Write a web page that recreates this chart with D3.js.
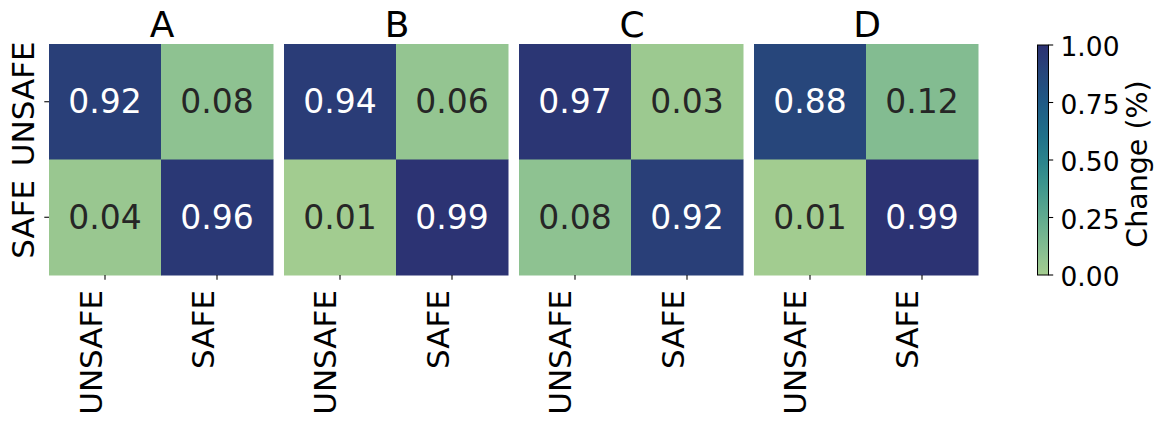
<!DOCTYPE html>
<html>
<head>
<meta charset="utf-8">
<script src="https://cdn.jsdelivr.net/npm/d3@7"></script>
<style>
  html, body { margin: 0; padding: 0; background: #fff; }
  svg { display: block; font-family: "DejaVu Sans", sans-serif; }
</style>
</head>
<body>
<svg id="chart" width="1163" height="421"></svg>
<script>
// ---- data ----
const panels = ["A", "B", "C", "D"];
const rowLabels = ["UNSAFE", "SAFE"];
const colLabels = ["UNSAFE", "SAFE"];
const valuesA = [[0.92, 0.08], [0.04, 0.96]];
const valuesB = [[0.94, 0.06], [0.01, 0.99]];
const valuesC = [[0.97, 0.03], [0.08, 0.92]];
const valuesD = [[0.88, 0.12], [0.01, 0.99]];
const cbarTicks = [0, 0.25, 0.5, 0.75, 1.0];
const cbarLabel = "Change (%)";

const panelValues = { A: valuesA, B: valuesB, C: valuesC, D: valuesD };

// approximate seaborn "crest" colormap
const crestStops = [0, 0.1, 0.25, 0.4, 0.5, 0.6, 0.75, 0.88, 1.0];
const crestColors = ["#a5cd90", "#88bf91", "#60ab8f", "#3b948d", "#2a838c", "#20718a", "#1f5a86", "#27467b", "#2c3172"];
const color = d3.scaleLinear().domain(crestStops).range(crestColors).interpolate(d3.interpolateRgb).clamp(true);

const svg = d3.select("#chart");

const plotTop = 44, plotBottom = 275;
const panelX = d3.scaleBand().domain(panels).range([49, 978]).paddingInner(0.0468).paddingOuter(0);
const yScale = d3.scaleBand().domain(rowLabels).range([plotTop, plotBottom]);

panels.forEach((p, pi) => {
  const x0 = panelX(p);
  const xScale = d3.scaleBand().domain(colLabels).range([x0, x0 + panelX.bandwidth()]);
  const g = svg.append("g");
  const vals = panelValues[p];
  const cells = [];
  rowLabels.forEach((r, ri) => colLabels.forEach((c, ci) => cells.push({ r, c, v: vals[ri][ci] })));

  g.selectAll("rect.cell").data(cells).enter().append("rect")
    .attr("class", "cell")
    .attr("x", d => xScale(d.c))
    .attr("y", d => yScale(d.r))
    .attr("width", xScale.bandwidth() + 0.5)
    .attr("height", yScale.bandwidth() + 0.5)
    .attr("fill", d => color(d.v));

  g.selectAll("text.ann").data(cells).enter().append("text")
    .attr("class", "ann")
    .attr("x", d => xScale(d.c) + xScale.bandwidth() / 2)
    .attr("y", d => yScale(d.r) + yScale.bandwidth() / 2 + 11.5)
    .attr("text-anchor", "middle")
    .attr("font-size", 33)
    .attr("fill", d => d.v > 0.5 ? "#ffffff" : "#262626")
    .text(d => d.v.toFixed(2));

  // title
  g.append("text")
    .attr("x", x0 + panelX.bandwidth() / 2 + 1)
    .attr("y", 36.5)
    .attr("text-anchor", "middle")
    .attr("font-size", 36)
    .attr("fill", "#000")
    .text(p);

  // x ticks
  colLabels.forEach(c => {
    const cx = xScale(c) + xScale.bandwidth() / 2;
    g.append("line").attr("x1", cx).attr("x2", cx).attr("y1", plotBottom).attr("y2", plotBottom + 4.7)
      .attr("stroke", "#000").attr("stroke-width", 1.07);
    g.append("text")
      .attr("transform", `translate(${cx - 3.5},${plotBottom + 15}) rotate(-90)`)
      .attr("text-anchor", "end")
      .attr("font-size", 31)
      .attr("fill", "#000")
      .text(c);
  });

  // y ticks (first panel only)
  if (pi === 0) {
    rowLabels.forEach(r => {
      const cy = yScale(r) + yScale.bandwidth() / 2;
      g.append("line").attr("x1", x0 - 4.7).attr("x2", x0).attr("y1", cy).attr("y2", cy)
        .attr("stroke", "#000").attr("stroke-width", 1.07);
      g.append("text")
        .attr("transform", `translate(${x0 - 15},${cy + 2}) rotate(-90)`)
        .attr("text-anchor", "middle")
        .attr("font-size", 31)
        .attr("fill", "#000")
        .text(r);
    });
  }
});

// ---- colorbar ----
const cbX = 1037.5, cbW = 11;
const cbScale = d3.scaleLinear().domain([0, 1]).range([plotBottom, plotTop + 1]);
const defs = svg.append("defs");
const grad = defs.append("linearGradient").attr("id", "cbgrad")
  .attr("x1", 0).attr("y1", 1).attr("x2", 0).attr("y2", 0);
d3.range(0, 1.0001, 0.02).forEach(t => {
  grad.append("stop").attr("offset", t).attr("stop-color", color(t));
});
svg.append("rect")
  .attr("x", cbX).attr("y", cbScale(1)).attr("width", cbW).attr("height", cbScale(0) - cbScale(1))
  .attr("fill", "url(#cbgrad)")
  .attr("stroke", "#000").attr("stroke-width", 1);

const cbAxis = svg.append("g");
const cbTickG = cbAxis.selectAll("g.tick").data(cbarTicks).enter().append("g").attr("class", "tick");
cbTickG.append("line")
  .attr("x1", cbX + cbW).attr("x2", cbX + cbW + 4.7)
  .attr("y1", d => cbScale(d)).attr("y2", d => cbScale(d))
  .attr("stroke", "#000").attr("stroke-width", 1.07);
cbTickG.append("text")
  .attr("x", cbX + cbW + 12)
  .attr("y", d => cbScale(d) + 11)
  .attr("font-size", 26.5)
  .attr("fill", "#000")
  .text(d => d3.format(".2f")(d));

svg.append("text")
  .attr("transform", `translate(1147,164) rotate(-90)`)
  .attr("text-anchor", "middle")
  .attr("font-size", 28.5)
  .attr("fill", "#000")
  .text(cbarLabel);
</script>
</body>
</html>
